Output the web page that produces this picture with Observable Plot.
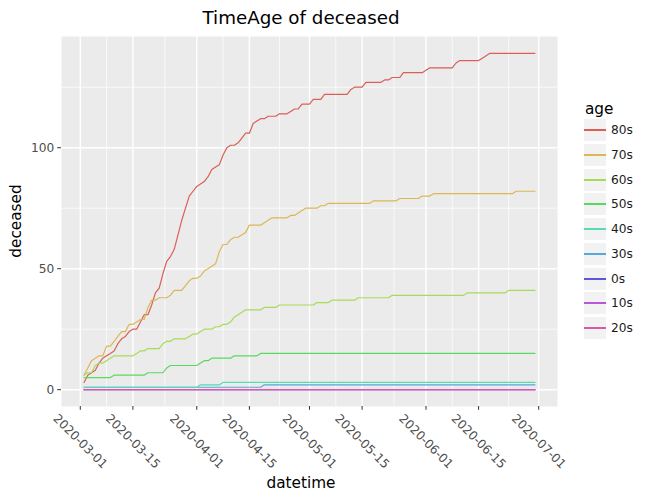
<!DOCTYPE html>
<html>
<head>
<meta charset="utf-8">
<script src="https://cdn.jsdelivr.net/npm/d3@7"></script>
<script src="https://cdn.jsdelivr.net/npm/@observablehq/plot@0.6"></script>
<style>
  html, body { margin: 0; padding: 0; background: #fff; }
  #wrap { position: relative; width: 659px; height: 503px; font-family: "DejaVu Sans", sans-serif; color: #000; overflow: hidden; }
  #title { height: 36px; line-height: 36px; width: 602px; text-align: center; font-size: 18.3px; }
  #chart svg { display: block; }
  .abs { position: absolute; white-space: nowrap; }
  #ylab { left: 16.5px; top: 221px; font-size: 15.3px; line-height: 15.3px; transform: translate(-50%, -50%) rotate(-90deg); }
  #xlab { left: 301px; top: 484px; font-size: 15.3px; line-height: 15.3px; transform: translate(-50%, -50%); }
  #legtitle { left: 585px; top: 100px; font-size: 15.3px; line-height: 18px; }
  .key { position: absolute; width: 22px; height: 22px; background: #F2F2F2; }
  .key i { position: absolute; left: 0; right: 0; top: 10px; height: 2px; }
  .klab { position: absolute; font-size: 12.2px; line-height: 22px; color: #1A1A1A; }
</style>
</head>
<body>
<div id="wrap">
  <div id="title">TimeAge of deceased</div>
  <div id="chart"></div>
  <div id="ylab" class="abs">deceased</div>
  <div id="xlab" class="abs">datetime</div>
  <div id="legtitle" class="abs">age</div>
  <div id="legend"></div>
</div>
<script>
// ---- data (daily, 2020-03-02 .. 2020-06-30) ----
const ages = ["80s", "70s", "60s", "50s", "40s", "30s", "0s", "10s", "20s"];
const colors = ["#DB5F57", "#DBB757", "#A7DB57", "#57DB5F", "#57DBB7", "#57A7DB", "#5F57DB", "#B757DB", "#DB57A7"];
const firstDay = "2020-03-02";
const lastDayExclusive = "2020-07-01";

const s80 = [3,6,7,8,11,13,14,15,16,19,
  21,22,24,25,25,28,31,31,35,40,
  42,48,53,55,58,64,70,75,80,82,
  84,85,86,88,91,92,93,97,100,101,
  101,102,104,106,106,110,111,112,112,113,
  113,113,114,114,114,115,116,116,118,118,
  118,120,120,120,122,122,122,122,122,122,
  122,124,125,125,125,127,127,127,127,127,
  128,128,129,129,129,131,131,131,131,131,
  131,132,133,133,133,133,133,133,133,135,
  136,136,136,136,136,136,137,138,139,139,
  139,139,139,139,139,139,139,139,139,139,139];
const s70 = [6,9,12,13,14,14,18,18,20,22,
  24,24,27,27,28,29,29,34,37,37,
  38,38,38,39,41,41,41,43,45,46,
  46,47,49,50,51,52,57,60,60,62,
  63,63,64,65,68,68,68,68,69,70,
  71,71,71,71,71,72,72,73,74,75,
  75,75,75,76,76,77,77,77,77,77,
  77,77,77,77,77,77,77,78,78,78,
  78,78,78,78,79,79,79,79,79,79,
  80,80,80,81,81,81,81,81,81,81,
  81,81,81,81,81,81,81,81,81,81,
  81,81,81,81,81,82,82,82,82,82,82];
const s60 = [6,7,7,10,11,11,12,13,14,14,
  14,14,14,14,15,16,16,17,17,17,
  17,19,20,20,21,21,21,21,22,23,
  23,24,25,25,25,26,26,27,27,28,
  30,31,32,33,33,33,33,33,34,34,
  34,34,35,35,35,35,35,35,35,35,
  35,35,36,36,36,36,37,37,37,37,
  37,37,37,38,38,38,38,38,38,38,
  38,38,39,39,39,39,39,39,39,39,
  39,39,39,39,39,39,39,39,39,39,
  39,39,40,40,40,40,40,40,40,40,
  40,40,40,41,41,41,41,41,41,41,41];
const s50 = [5,5,5,5,5,5,5,5,6,6,
  6,6,6,6,6,6,6,7,7,7,
  7,7,9,10,10,10,10,10,10,10,
  10,11,12,12,13,13,13,13,13,13,
  14,14,14,14,14,14,14,15,15,15,
  15,15,15,15,15,15,15,15,15,15,
  15,15,15,15,15,15,15,15,15,15,
  15,15,15,15,15,15,15,15,15,15,
  15,15,15,15,15,15,15,15,15,15,
  15,15,15,15,15,15,15,15,15,15,
  15,15,15,15,15,15,15,15,15,15,
  15,15,15,15,15,15,15,15,15,15,15];
const s40 = [1,1,1,1,1,1,1,1,1,1,
  1,1,1,1,1,1,1,1,1,1,
  1,1,1,1,1,1,1,1,1,1,
  1,2,2,2,2,2,2,3,3,3,
  3,3,3,3,3,3,3,3,3,3,
  3,3,3,3,3,3,3,3,3,3,
  3,3,3,3,3,3,3,3,3,3,
  3,3,3,3,3,3,3,3,3,3,
  3,3,3,3,3,3,3,3,3,3,
  3,3,3,3,3,3,3,3,3,3,
  3,3,3,3,3,3,3,3,3,3,
  3,3,3,3,3,3,3,3,3,3,3];
const s30 = [1,1,1,1,1,1,1,1,1,1,
  1,1,1,1,1,1,1,1,1,1,
  1,1,1,1,1,1,1,1,1,1,
  1,1,1,1,1,1,1,1,1,1,
  1,1,1,1,1,1,1,1,2,2,
  2,2,2,2,2,2,2,2,2,2,
  2,2,2,2,2,2,2,2,2,2,
  2,2,2,2,2,2,2,2,2,2,
  2,2,2,2,2,2,2,2,2,2,
  2,2,2,2,2,2,2,2,2,2,
  2,2,2,2,2,2,2,2,2,2,
  2,2,2,2,2,2,2,2,2,2,2];
const s0 = [0,0,0,0,0,0,0,0,0,0, 0,0,0,0,0,0,0,0,0,0, 0,0,0,0,0,0,0,0,0,0,
  0,0,0,0,0,0,0,0,0,0, 0,0,0,0,0,0,0,0,0,0, 0,0,0,0,0,0,0,0,0,0,
  0,0,0,0,0,0,0,0,0,0, 0,0,0,0,0,0,0,0,0,0, 0,0,0,0,0,0,0,0,0,0,
  0,0,0,0,0,0,0,0,0,0, 0,0,0,0,0,0,0,0,0,0, 0,0,0,0,0,0,0,0,0,0,0];
const s10 = [0,0,0,0,0,0,0,0,0,0, 0,0,0,0,0,0,0,0,0,0, 0,0,0,0,0,0,0,0,0,0,
  0,0,0,0,0,0,0,0,0,0, 0,0,0,0,0,0,0,0,0,0, 0,0,0,0,0,0,0,0,0,0,
  0,0,0,0,0,0,0,0,0,0, 0,0,0,0,0,0,0,0,0,0, 0,0,0,0,0,0,0,0,0,0,
  0,0,0,0,0,0,0,0,0,0, 0,0,0,0,0,0,0,0,0,0, 0,0,0,0,0,0,0,0,0,0,0];
const s20 = [0,0,0,0,0,0,0,0,0,0, 0,0,0,0,0,0,0,0,0,0, 0,0,0,0,0,0,0,0,0,0,
  0,0,0,0,0,0,0,0,0,0, 0,0,0,0,0,0,0,0,0,0, 0,0,0,0,0,0,0,0,0,0,
  0,0,0,0,0,0,0,0,0,0, 0,0,0,0,0,0,0,0,0,0, 0,0,0,0,0,0,0,0,0,0,
  0,0,0,0,0,0,0,0,0,0, 0,0,0,0,0,0,0,0,0,0, 0,0,0,0,0,0,0,0,0,0,0];

const xTickLabels = ["2020-03-01","2020-03-15","2020-04-01","2020-04-15","2020-05-01","2020-05-15","2020-06-01","2020-06-15","2020-07-01"];
const yTicks = [0, 50, 100];
const yMinor = [25, 75, 125];

// ---- build table ----
const seriesByAge = {"80s": s80, "70s": s70, "60s": s60, "50s": s50, "40s": s40, "30s": s30, "0s": s0, "10s": s10, "20s": s20};
const dates = d3.utcDay.range(new Date(firstDay), new Date(lastDayExclusive));
const drawOrder = ["80s", "70s", "60s", "50s", "30s", "40s", "0s", "10s", "20s"];
const rows = [];
for (const age of drawOrder) {
  seriesByAge[age].forEach((v, i) => rows.push({date: dates[i], age, value: v}));
}

const xTicks = xTickLabels.map(s => new Date(s));
const xMinor = xTicks.slice(1).map((d, i) => new Date((+d + +xTicks[i]) / 2));
const fmt = d3.utcFormat("%Y-%m-%d");

const [x0, x1] = d3.extent(dates);
const xPad = (x1 - x0) * 0.05;
const xDomain = [new Date(+x0 - xPad), new Date(+x1 + xPad)];
const yMax = d3.max(rows, d => d.value), yMin = d3.min(rows, d => d.value);
const yPad = (yMax - yMin) * 0.05;
const yDomain = [yMin - yPad, yMax + yPad];

const plot = Plot.plot({
  width: 659,
  height: 467,
  marginTop: 0,
  marginLeft: 61,
  marginRight: 102,
  marginBottom: 97,
  x: {type: "utc", domain: xDomain},
  y: {domain: yDomain},
  color: {domain: ages, range: colors},
  style: {fontFamily: "DejaVu Sans", fontSize: "12.2px", background: "white", overflow: "visible"},
  marks: [
    Plot.frame({fill: "#EBEBEB", stroke: "none"}),
    Plot.ruleX(xMinor, {stroke: "white", strokeWidth: 0.7}),
    Plot.ruleY(yMinor, {stroke: "white", strokeWidth: 0.7}),
    Plot.ruleX(xTicks, {stroke: "white", strokeWidth: 1.4}),
    Plot.ruleY(yTicks, {stroke: "white", strokeWidth: 1.4}),
    Plot.line(rows, {x: "date", y: "value", z: "age", stroke: "age", strokeWidth: 1.2}),
    Plot.axisY({ticks: yTicks, tickSize: 3.8, tickPadding: 3.5, stroke: "#333333", fill: "#4D4D4D", fontSize: 12.2, label: null}),
    Plot.axisX({ticks: xTicks, tickSize: 3.8, stroke: "#333333", tickFormat: () => "", label: null}),
    Plot.text(xTicks, {x: d => d, frameAnchor: "bottom", dy: 35, rotate: 45, text: d => fmt(d),
      fill: "#4D4D4D", fontSize: 12.2, textAnchor: "middle", lineAnchor: "middle"})
  ]
});
document.getElementById("chart").appendChild(plot);

// ---- legend (uses the same color scale) ----
const colorScale = plot.scale("color");
const leg = document.getElementById("legend");
ages.forEach((age, i) => {
  const top = Math.round(119 + i * 24.75);
  const key = document.createElement("div");
  key.className = "key";
  key.style.left = "584px";
  key.style.top = top + "px";
  const ln = document.createElement("i");
  ln.style.background = colorScale.apply(age);
  key.appendChild(ln);
  leg.appendChild(key);
  const lab = document.createElement("div");
  lab.className = "klab";
  lab.style.left = "611px";
  lab.style.top = top + "px";
  lab.textContent = age;
  leg.appendChild(lab);
});
</script>
</body>
</html>
